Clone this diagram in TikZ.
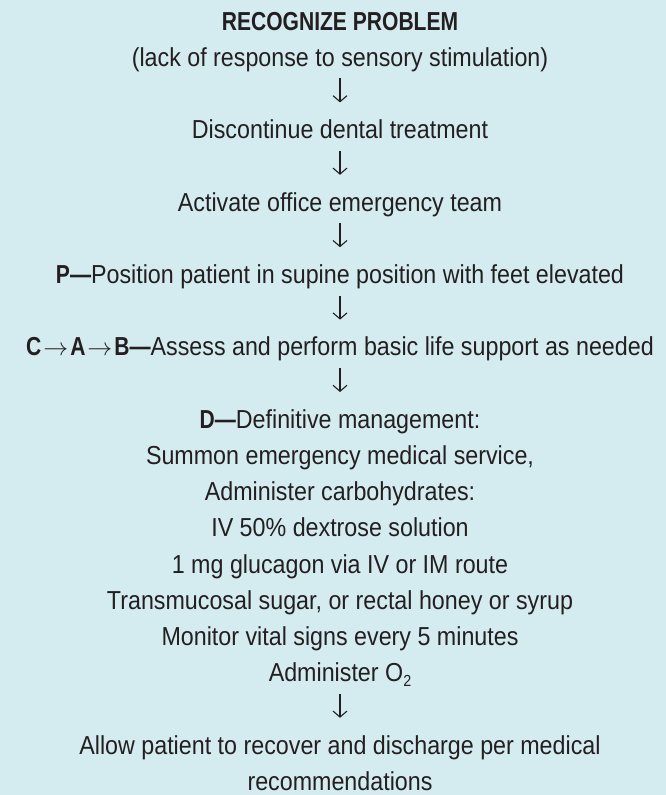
\documentclass[tikz,border=0pt]{standalone}
\usepackage{fontspec}
\setmainfont{Liberation Sans}[FakeStretch=0.895]
\newfontfamily\hbfont{Liberation Sans Bold}[FakeStretch=0.81]
\usetikzlibrary{arrows.meta}
\definecolor{bg}{HTML}{D4ECF0}
\definecolor{ink}{HTML}{231F20}
\newcommand{\bld}[1]{{\hbfont #1}}
\newcommand{\rarr}{\kern2pt$\rightarrow$\kern2pt}
\begin{document}
\begin{tikzpicture}[x=1pt,y=1pt,
  txt/.style={anchor=base,inner sep=0pt,text height=18pt,text depth=6pt,
    font=\fontsize{26}{30}\selectfont,text=ink},
  flow/.style={draw=ink,line width=1.1pt,shorten <=6pt,shorten >=18pt,
    -{Straight Barb[length=6pt,width=14pt,line width=1.1pt]}}]
\fill[bg] (0,0) rectangle (666,-795);
\useasboundingbox (0,0) rectangle (666,-795);
\def\cx{340}
\node[txt] (l1)  at (\cx,-30)    {\bld{RECOGNIZE PROBLEM}};
\node[txt] (l2)  at (\cx,-66.2)  {(lack of response to sensory stimulation)};
\node[txt] (l4)  at (\cx,-138.6) {Discontinue dental treatment};
\node[txt] (l6)  at (\cx,-211)   {Activate office emergency team};
\node[txt] (l8)  at (\cx,-283.4) {\bld{P—}Position patient in supine position with feet elevated};
\node[txt] (l10) at (\cx,-355.8) {\bld{C}\rarr\bld{A}\rarr\bld{B—}Assess and perform basic life support as needed};
\node[txt] (l12) at (\cx,-428.2) {\bld{D—}Definitive management:};
\node[txt] (l13) at (\cx,-464.4) {Summon emergency medical service,};
\node[txt] (l14) at (\cx,-500.6) {Administer carbohydrates:};
\node[txt] (l15) at (\cx,-536.8) {IV 50\% dextrose solution};
\node[txt] (l16) at (\cx,-573)   {1 mg glucagon via IV or IM route};
\node[txt] (l17) at (\cx,-609.2) {Transmucosal sugar, or rectal honey or syrup};
\node[txt] (l18) at (\cx,-645.4) {Monitor vital signs every 5 minutes};
\node[txt] (l19) at (\cx,-681.6) {Administer O\raisebox{-5pt}{\fontsize{16}{16}\selectfont 2}};
\node[txt] (l21) at (\cx,-754)   {Allow patient to recover and discharge per medical};
\node[txt] (l22) at (\cx,-790.2) {recommendations};
\draw[flow] (l2) -- (l4);
\draw[flow] (l4) -- (l6);
\draw[flow] (l6) -- (l8);
\draw[flow] (l8) -- (l10);
\draw[flow] (l10) -- (l12);
\draw[flow] (l19) -- (l21);
\end{tikzpicture}
\end{document}
